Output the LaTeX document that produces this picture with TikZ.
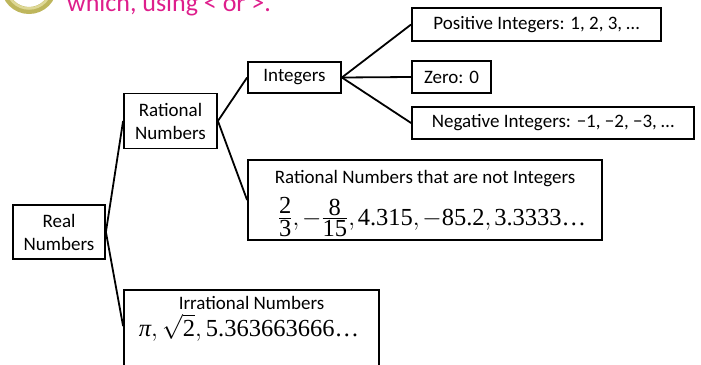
\documentclass[tikz,border=0pt]{standalone}
\usepackage{fontspec}
\usepackage{amsmath}
\usetikzlibrary{calc}
\setmainfont{Carlito}
\newfontfamily\tnr{Liberation Serif}
\definecolor{hdr}{RGB}{222,30,140}
\definecolor{ringdark}{RGB}{190,182,92}
\definecolor{ringlight}{RGB}{222,216,150}
\newcommand\myfr[2]{\frac{\raisebox{0pt}[\height][4pt]{#1}}{\hbox{#2}}}
\newcommand\cm{{,}\mkern2mu}
\begin{document}
\begin{tikzpicture}[x=1pt,y=-1pt,
  box/.style={draw=black,line width=1.8pt,inner sep=0pt,align=center,
    font=\fontsize{19}{23}\selectfont},
  lbl/.style={inner sep=0pt,anchor=base,font=\fontsize{19}{23}\selectfont},
  mth/.style={inner sep=0pt,anchor=base,font=\tnr\fontsize{24.5}{28}\selectfont},
  link/.style={line width=1.8pt,line join=miter}]
\useasboundingbox (0,0) rectangle (701,364);
\clip (0,0) rectangle (701,364);
% header remnants
\draw[ringdark,line width=7pt] (29,-14) circle (24.5);
\draw[ringlight,line width=2.5pt] (29,-14) circle (22.5);
\node[anchor=base west,inner sep=0pt,text=hdr,font=\fontsize{26}{30}\selectfont] (hdr) at (67,11) {which, using < or >.};
% boxes
\node[box,minimum width=92pt,minimum height=54pt] (real) at (59,232) {Real\\Numbers};
\node[box,minimum width=93pt,minimum height=55pt] (rat) at (170.5,121) {Rational\\Numbers};
\node[box,minimum width=93pt,minimum height=31pt] (int) at (294.5,77.5) {Integers};
\node[box,minimum width=249pt,minimum height=33pt] (pos) at (536.5,24.5) {Positive Integers: 1, 2, 3, …};
\node[box,minimum width=79pt,minimum height=32pt] (zero) at (451.5,77) {Zero: 0};
\node[box,minimum width=282pt,minimum height=32pt] (neg) at (553,123) {Negative Integers: −1, −2, −3, …};
\node[box,minimum width=354pt,minimum height=80pt] (nonint) at (425,200) {};
\node[box,minimum width=255pt,minimum height=84pt] (irr) at (251.5,332) {};
% texts inside the big boxes
\node[lbl] (nonintT) at (425,183) {Rational Numbers that are not Integers};
\node[mth] (nonintM) at (432,225) {$\myfr{2}{3}\cm{-}\myfr{8}{15}\cm\hbox{4.315}\cm{-}\hbox{85.2}\cm\hbox{3.3333…}$};
\node[lbl] (irrT) at (251.5,309) {Irrational Numbers};
\node[mth] (irrM) at (249,336) {$\hbox{\itshape π},{\scriptstyle\sqrt{\raisebox{0pt}[16pt][0pt]{2}}},\hbox{5.363663666…}$};
% connectors
\coordinate (irrin) at ($(irr.north west)+(0,37)$);
\draw[link] (rat.west) -- (real.east) -- (irrin);
\draw[link] (int.west) -- (rat.east) -- (nonint.west);
\draw[link] (int.east) -- (pos.west);
\draw[link] (int.east) -- (zero.west);
\draw[link] (int.east) -- (neg.west);
\end{tikzpicture}
\end{document}
